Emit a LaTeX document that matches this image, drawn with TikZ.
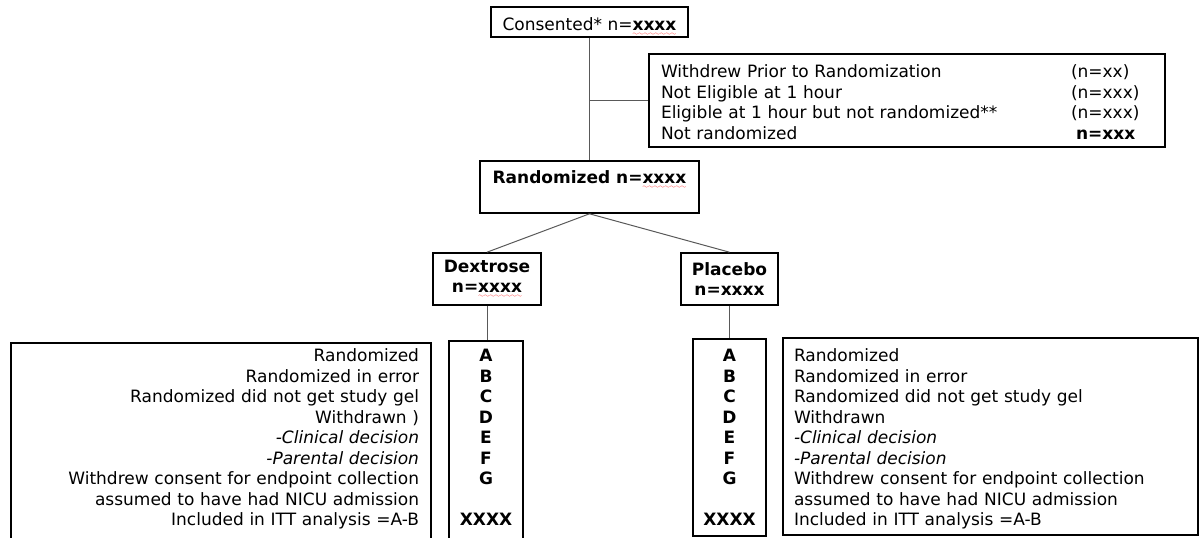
\documentclass[tikz,border=0pt]{standalone}
\usepackage{fontspec}
\setmainfont{DejaVu Sans}
\font\sixly=lasy6
\newcommand\redwave[1]{\setbox0\hbox{#1}%
  \rlap{\textcolor{red}{\lower5pt\hbox to \wd0{\xleaders\hbox{\sixly\char58}\hfill}}}\box0}

\begin{document}
\begin{tikzpicture}[x=1pt, y=-1pt,
  every node/.style={font=\fontsize{17pt}{20.5pt}\selectfont},
  bold/.style={font=\fontsize{17pt}{20.5pt}\selectfont\bfseries},
  box/.style={draw, line width=1.6pt, inner sep=0pt},
  link/.style={draw=black!65, line width=1pt}]
\clip (0,0) rectangle (1200,538);

\draw (589.5, 6)
  node[box, anchor=north, minimum width=197pt, text height=24pt, text depth=6pt] (consent)
  {Consented* n=\textbf{\redwave{xxxx}}};
\draw (907, 53)
  node[box, anchor=north, inner xsep=12pt, text width=492pt, align=left,
       text height=24pt, text depth=69pt] (excl) {%
\begin{tabular}[t]{@{}p{410pt}@{}l@{}}
Withdrew Prior to Randomization & (n=xx)\\
Not Eligible at 1 hour & (n=xxx)\\
Eligible at 1 hour but not randomized** & (n=xxx)\\
Not randomized & \hspace{5pt}\textbf{n=xxx}
\end{tabular}};
\draw (589.5, 187)
  node[box, bold, minimum width=219pt, minimum height=52pt, align=center] (rand)
  {Randomized n=\redwave{xxxx}\\\mbox{}};
\draw (487, 279)
  node[box, bold, minimum width=108pt, minimum height=52pt, align=center] (dex)
  {Dextrose\\n=\redwave{xxxx}};
\draw (729.5, 279)
  node[box, bold, minimum width=97pt, minimum height=52pt, align=center] (plac)
  {Placebo\\n=xxxx};

\draw (221, 342)
  node[box, anchor=north, inner xsep=12pt, text width=396pt, align=right,
       text height=19pt, text depth=210pt] (dlist)
  {Randomized\\Randomized in error\\Randomized did not get study gel\\
   Withdrawn )\\\textit{-Clinical decision}\\\textit{-Parental decision}\\
   Withdrew consent for endpoint collection\\
   assumed to have had NICU admission\\Included in ITT analysis =A-B};
\draw (486, 340)
  node[box, bold, anchor=north, text width=74pt, align=center,
       text height=21pt, text depth=210pt] (dabc)
  {A\\B\\C\\D\\E\\F\\G\\\mbox{}\\XXXX};
\draw (729.5, 338)
  node[box, bold, anchor=north, text width=73pt, align=center,
       text height=23pt, text depth=174pt] (pabc)
  {A\\B\\C\\D\\E\\F\\G\\\mbox{}\\XXXX};
\draw (990.5, 337)
  node[box, anchor=north, inner xsep=11pt, text width=393pt, align=left,
       text height=24pt, text depth=173pt] (plist)
  {Randomized\\Randomized in error\\Randomized did not get study gel\\
   Withdrawn\\\textit{-Clinical decision}\\\textit{-Parental decision}\\
   Withdrew consent for endpoint collection\\
   assumed to have had NICU admission\\Included in ITT analysis =A-B};

\draw[link] (consent.south) -- (rand.north);
\draw[link] (excl.west) -- (excl.west -| rand.north);
\draw[link] (rand.south) -- (dex.north);
\draw[link] (rand.south) -- (plac.north);
\draw[link] (dex.south) -- (dex.south |- dabc.north);
\draw[link] (plac.south) -- (pabc.north);
\end{tikzpicture}
\end{document}
